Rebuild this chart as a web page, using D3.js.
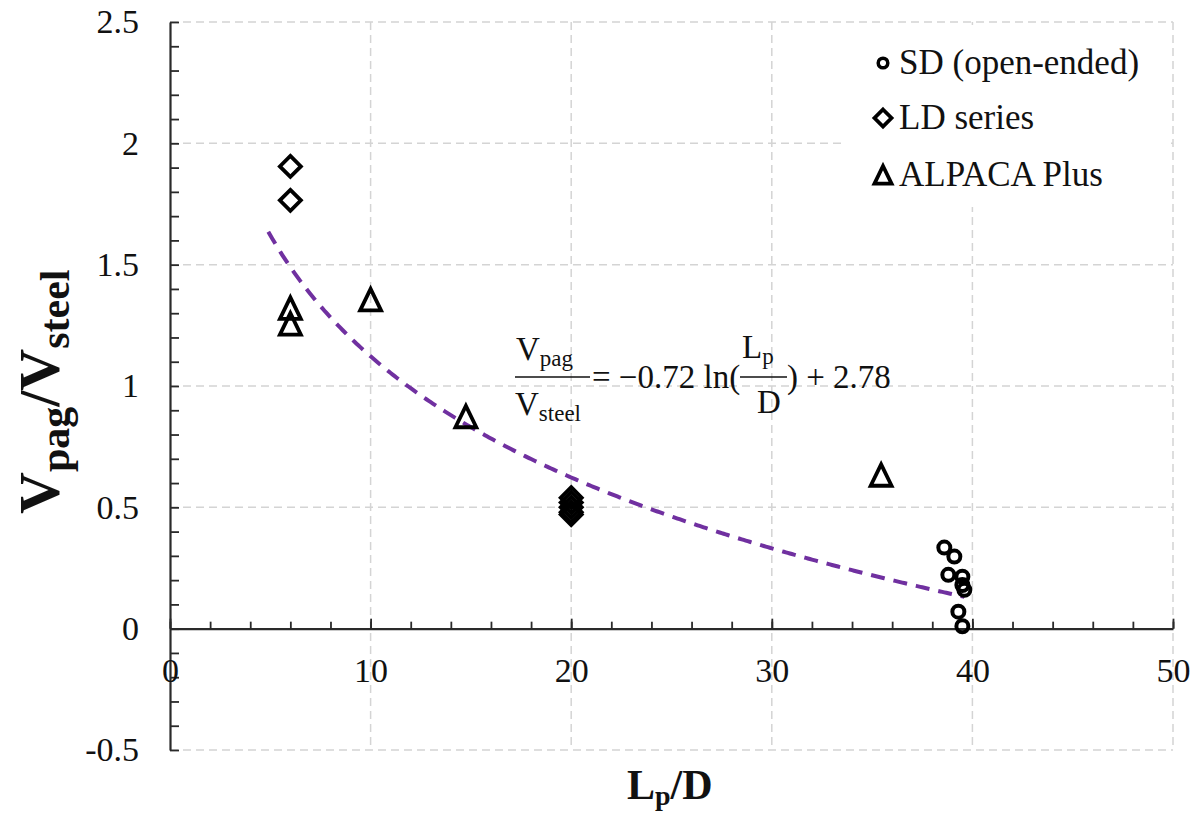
<!DOCTYPE html>
<html>
<head>
<meta charset="utf-8">
<script src="https://cdn.jsdelivr.net/npm/d3@7"></script>
<style>
  html, body { margin: 0; padding: 0; background: #fff; }
  svg { display: block; font-family: "Liberation Serif", "Times New Roman", serif; }
  svg text { font-family: "Liberation Serif", "Times New Roman", serif; }
</style>
</head>
<body>
<svg id="chart" width="1203" height="814"></svg>
<script>
// ---------- data ----------
const sdX   = [38.6, 39.1, 38.8, 39.5, 39.5, 39.6, 39.3, 39.5];
const sdY   = [0.334, 0.297, 0.222, 0.214, 0.18, 0.16, 0.07, 0.01];
const ldX   = [6, 6, 20, 20, 20, 20, 20];
const ldY   = [1.905, 1.765, 0.54, 0.52, 0.50, 0.48, 0.47];
const apX   = [6, 6, 10, 14.75, 35.45];
const apY   = [1.32, 1.255, 1.355, 0.873, 0.632];
const fitA  = -0.72, fitB = 2.78;
const fitRange = [4.9, 39.6];
const xTicks = [0, 10, 20, 30, 40, 50];
const yTicks = [-0.5, 0, 0.5, 1, 1.5, 2, 2.5];
const legendLabels = ["SD (open-ended)", "LD series", "ALPACA Plus"];

// ---------- layout ----------
const svg = d3.select("#chart");
const x = d3.scaleLinear().domain([0, 50]).range([170, 1173]);
const y = d3.scaleLinear().domain([-0.5, 2.5]).range([750, 22]);
const gridColor = "#d4d4d4";
const axisColor = "#2a2a2a";
const serif = "'Liberation Serif', 'Times New Roman', serif";

// gridlines
const grid = svg.append("g");
grid.selectAll("line.v").data(xTicks.filter(d => d > 0)).join("line")
  .attr("x1", d => x(d)).attr("x2", d => x(d))
  .attr("y1", y(2.5)).attr("y2", y(-0.5))
  .attr("stroke", gridColor).attr("stroke-width", 1.5).attr("stroke-dasharray", "8,5");
grid.selectAll("line.h").data(yTicks.filter(d => d !== 0)).join("line")
  .attr("x1", x(0)).attr("x2", x(50))
  .attr("y1", d => y(d)).attr("y2", d => y(d))
  .attr("stroke", gridColor).attr("stroke-width", 1.5).attr("stroke-dasharray", "8,5");

// legend background (covers gridlines)
svg.append("rect").attr("x", 843).attr("y", 25).attr("width", 327).attr("height", 182).attr("fill", "#fff");

// fit curve
const fitData = d3.range(fitRange[0], fitRange[1] + 0.001, 0.1).map(v => [v, fitA * Math.log(v) + fitB]);
svg.append("path").datum(fitData)
  .attr("d", d3.line().x(d => x(d[0])).y(d => y(d[1])))
  .attr("fill", "none").attr("stroke", "#7030A0").attr("stroke-width", 4)
  .attr("stroke-dasharray", "14,9");

// axes
const yMinor = d3.range(-5, 26).map(i => i / 10);
svg.append("g").attr("transform", `translate(${x(0)},0)`)
  .call(d3.axisLeft(y).tickValues(yMinor).tickSizeInner(-9).tickSizeOuter(0).tickFormat(""))
  .call(g => g.selectAll("line").attr("stroke", axisColor).attr("stroke-width", 1.8))
  .call(g => g.select(".domain").attr("stroke", axisColor).attr("stroke-width", 2.2));
svg.append("g").attr("transform", `translate(${x(0)},0)`)
  .call(d3.axisLeft(y).tickValues(yTicks).tickSize(0).tickPadding(31).tickFormat(d => String(d)))
  .call(g => g.select(".domain").remove())
  .call(g => g.selectAll("text").style("font-size", "34px").attr("fill", "#111").style("font-family", serif));

const xMinor = d3.range(0, 51, 2);
svg.append("g").attr("transform", `translate(0,${y(0)})`)
  .call(d3.axisBottom(x).tickValues(xMinor).tickSizeInner(-7).tickSizeOuter(0).tickFormat(""))
  .call(g => g.selectAll("line").attr("stroke", axisColor).attr("stroke-width", 1.8))
  .call(g => g.select(".domain").attr("stroke", axisColor).attr("stroke-width", 2.2));
svg.append("g").attr("transform", `translate(0,${y(0)})`)
  .call(d3.axisBottom(x).tickValues(xTicks).tickSizeInner(-10).tickSizeOuter(0).tickPadding(29).tickFormat(d => String(d)))
  .call(g => g.select(".domain").remove())
  .call(g => g.selectAll("line").attr("stroke", axisColor).attr("stroke-width", 1.8))
  .call(g => g.selectAll("text").style("font-size", "34px").attr("fill", "#111").style("font-family", serif));

// marker shapes
const circleSym = { draw(ctx, size) { const r = Math.sqrt(size); ctx.moveTo(r, 0); ctx.arc(0, 0, r, 0, 2 * Math.PI); } };
const diamondSym = { draw(ctx, size) { const r = Math.sqrt(size); ctx.moveTo(0, -r); ctx.lineTo(r, 0); ctx.lineTo(0, r); ctx.lineTo(-r, 0); ctx.closePath(); } };
const triSym = { draw(ctx, size) { const r = Math.sqrt(size); ctx.moveTo(0, -r); ctx.lineTo(r * 0.95, r * 0.95); ctx.lineTo(-r * 0.95, r * 0.95); ctx.closePath(); } };

function drawSeries(xs, ys, type, sz, sw) {
  svg.append("g").selectAll("path").data(xs.map((v, i) => [v, ys[i]])).join("path")
    .attr("transform", d => `translate(${x(d[0])},${y(d[1])})`)
    .attr("d", d3.symbol().type(type).size(sz * sz))
    .attr("fill", "none").attr("stroke", "#000").attr("stroke-width", sw)
    .attr("stroke-linejoin", "miter");
}
drawSeries(sdX, sdY, circleSym, 6, 4);
drawSeries(ldX, ldY, diamondSym, 10.5, 3.8);
drawSeries(apX, apY, triSym, 11, 3.8);

// legend
const leg = svg.append("g");
const legSyms = [[circleSym, 4.8, 3.5], [diamondSym, 8.5, 3.8], [triSym, 9, 3.8]];
const legY = [63, 118, 175];
legendLabels.forEach((lab, i) => {
  leg.append("path").attr("transform", `translate(883,${legY[i]})`)
    .attr("d", d3.symbol().type(legSyms[i][0]).size(legSyms[i][1] ** 2))
    .attr("fill", "none").attr("stroke", "#000").attr("stroke-width", legSyms[i][2]);
  leg.append("text").attr("x", 899).attr("y", legY[i] + 11).attr("font-size", 35).attr("fill", "#111").text(lab);
});

// equation annotation
const eq = svg.append("g").attr("fill", "#111").attr("font-size", 33);
function vsub(xp, yp, main, sub) {
  const t = eq.append("text").attr("x", xp).attr("y", yp);
  t.append("tspan").text(main);
  t.append("tspan").attr("font-size", 23).attr("dy", 6).text(sub);
}
vsub(516, 360, "V", "pag");
eq.append("line").attr("x1", 515).attr("x2", 590).attr("y1", 377).attr("y2", 377).attr("stroke", "#111").attr("stroke-width", 1.6);
vsub(515, 415, "V", "steel");
eq.append("text").attr("x", 592).attr("y", 388).text("= \u22120.72 ln(");
const lt = eq.append("text").attr("x", 742).attr("y", 358);
lt.append("tspan").text("L");
lt.append("tspan").attr("font-size", 23).attr("dy", 6).text("p");
eq.append("line").attr("x1", 740).attr("x2", 787).attr("y1", 377).attr("y2", 377).attr("stroke", "#111").attr("stroke-width", 1.6);
eq.append("text").attr("x", 757).attr("y", 413).text("D");
eq.append("text").attr("x", 787).attr("y", 388).text(") + 2.78");

// axis titles
const xt = svg.append("text").attr("x", 627).attr("y", 799).attr("font-size", 42).attr("font-weight", "bold").attr("fill", "#111");
xt.append("tspan").text("L");
xt.append("tspan").attr("font-size", 28).attr("dy", 6).text("p");
xt.append("tspan").attr("dy", -6).text("/D");

const yt = svg.append("text").attr("transform", "translate(59,514) rotate(-90)")
  .attr("font-size", 58).attr("font-weight", "bold").attr("fill", "#111");
yt.append("tspan").text("V");
yt.append("tspan").attr("font-size", 42).attr("dy", 10).text("pag");
yt.append("tspan").attr("dy", -10).text("/V");
yt.append("tspan").attr("font-size", 42).attr("dy", 10).text("steel");
</script>
</body>
</html>
